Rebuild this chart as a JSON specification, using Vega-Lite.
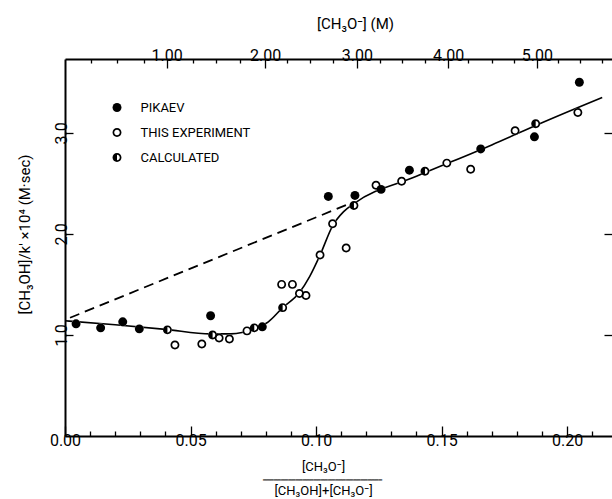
{
  "$schema": "https://vega.github.io/schema/vega-lite/v6.json",
  "width": 547,
  "height": 377,
  "autosize": "none",
  "padding": {"left": 65, "top": 59, "right": 0, "bottom": 63},
  "background": "white",
  "title": {
    "text": "━━━━━━━━━━━━━━━━━━━━━━━━━━━━━━━━━",
    "orient": "bottom",
    "frame": "group",
    "anchor": "middle",
    "font": "DejaVu Sans",
    "fontSize": 6,
    "fontWeight": "normal",
    "color": "black",
    "offset": 0,
    "dx": -16,
    "dy": -17,
    "baseline": "middle"
  },
  "config": {
    "view": {"stroke": null},
    "font": "Roboto",
    "axis": {
      "grid": false,
      "domainColor": "black",
      "domainWidth": 2,
      "tickColor": "black",
      "tickWidth": 1.3,
      "labelFont": "Roboto",
      "labelFontSize": 16,
      "labelColor": "black",
      "labelFlush": false,
      "labelOverlap": false,
      "titleFont": "Roboto",
      "titleFontSize": 14,
      "titleFontWeight": "normal",
      "titleColor": "black"
    }
  },
  "datasets": {
    "points": [
      {"series": "PIKAEV", "frac": 0.0044, "rate": 1.11},
      {"series": "PIKAEV", "frac": 0.0142, "rate": 1.07},
      {"series": "PIKAEV", "frac": 0.0230, "rate": 1.13},
      {"series": "PIKAEV", "frac": 0.0296, "rate": 1.06},
      {"series": "PIKAEV", "frac": 0.0580, "rate": 1.19},
      {"series": "PIKAEV", "frac": 0.0786, "rate": 1.08},
      {"series": "PIKAEV", "frac": 0.1049, "rate": 2.37},
      {"series": "PIKAEV", "frac": 0.1155, "rate": 2.38},
      {"series": "PIKAEV", "frac": 0.1259, "rate": 2.44},
      {"series": "PIKAEV", "frac": 0.1372, "rate": 2.63},
      {"series": "PIKAEV", "frac": 0.1656, "rate": 2.84},
      {"series": "PIKAEV", "frac": 0.1870, "rate": 2.96},
      {"series": "PIKAEV", "frac": 0.2049, "rate": 3.50},
      {"series": "THIS EXPERIMENT", "frac": 0.0438, "rate": 0.90},
      {"series": "THIS EXPERIMENT", "frac": 0.0545, "rate": 0.91},
      {"series": "THIS EXPERIMENT", "frac": 0.0614, "rate": 0.97},
      {"series": "THIS EXPERIMENT", "frac": 0.0655, "rate": 0.96},
      {"series": "THIS EXPERIMENT", "frac": 0.0725, "rate": 1.04},
      {"series": "THIS EXPERIMENT", "frac": 0.0863, "rate": 1.50},
      {"series": "THIS EXPERIMENT", "frac": 0.0906, "rate": 1.50},
      {"series": "THIS EXPERIMENT", "frac": 0.0934, "rate": 1.41},
      {"series": "THIS EXPERIMENT", "frac": 0.0960, "rate": 1.39},
      {"series": "THIS EXPERIMENT", "frac": 0.1016, "rate": 1.79},
      {"series": "THIS EXPERIMENT", "frac": 0.1066, "rate": 2.10},
      {"series": "THIS EXPERIMENT", "frac": 0.1120, "rate": 1.86},
      {"series": "THIS EXPERIMENT", "frac": 0.1239, "rate": 2.48},
      {"series": "THIS EXPERIMENT", "frac": 0.1341, "rate": 2.52},
      {"series": "THIS EXPERIMENT", "frac": 0.1521, "rate": 2.70},
      {"series": "THIS EXPERIMENT", "frac": 0.1616, "rate": 2.64},
      {"series": "THIS EXPERIMENT", "frac": 0.1793, "rate": 3.02},
      {"series": "THIS EXPERIMENT", "frac": 0.2043, "rate": 3.20},
      {"series": "CALCULATED", "frac": 0.0408, "rate": 1.05},
      {"series": "CALCULATED", "frac": 0.0588, "rate": 1.00},
      {"series": "CALCULATED", "frac": 0.0754, "rate": 1.07},
      {"series": "CALCULATED", "frac": 0.0867, "rate": 1.27},
      {"series": "CALCULATED", "frac": 0.1151, "rate": 2.28},
      {"series": "CALCULATED", "frac": 0.1434, "rate": 2.62},
      {"series": "CALCULATED", "frac": 0.1875, "rate": 3.09}
    ],
    "curve": [
      {"frac": 0.0, "rate": 1.14},
      {"frac": 0.02, "rate": 1.10},
      {"frac": 0.04, "rate": 1.055},
      {"frac": 0.058, "rate": 1.01},
      {"frac": 0.066, "rate": 1.01},
      {"frac": 0.0754, "rate": 1.06},
      {"frac": 0.081, "rate": 1.13},
      {"frac": 0.0867, "rate": 1.27},
      {"frac": 0.0934, "rate": 1.42},
      {"frac": 0.0975, "rate": 1.58},
      {"frac": 0.1016, "rate": 1.79},
      {"frac": 0.1066, "rate": 2.08},
      {"frac": 0.111, "rate": 2.22},
      {"frac": 0.1151, "rate": 2.30},
      {"frac": 0.14, "rate": 2.57},
      {"frac": 0.17, "rate": 2.88},
      {"frac": 0.19, "rate": 3.10},
      {"frac": 0.214, "rate": 3.35}
    ],
    "dashed": [
      {"frac": 0.002, "rate": 1.17},
      {"frac": 0.1135, "rate": 2.30}
    ]
  },
  "layer": [
    {
      "data": {"name": "dashed"},
      "mark": {"type": "line", "color": "black", "strokeWidth": 1.8, "strokeDash": [10, 6]},
      "encoding": {
        "x": {
          "field": "frac", "type": "quantitative",
          "scale": {"domain": [0, 0.2179], "nice": false, "zero": false},
          "axis": {
            "orient": "bottom",
            "values": [0, 0.01, 0.02, 0.03, 0.04, 0.05, 0.06, 0.07, 0.08, 0.09, 0.1, 0.11, 0.12, 0.13, 0.14, 0.15, 0.16, 0.17, 0.18, 0.19, 0.2, 0.21],
            "labelExpr": "round(datum.value*100)%5==0 ? format(datum.value,'.2f') : ''",
            "tickSize": {"condition": {"test": "round(datum.value*100)%5==0", "value": -10}, "value": -5},
            "labelPadding": 6,
            "title": ["[CH₃O⁻]", "[CH₃OH]+[CH₃O⁻]"],
            "titleFontSize": 13,
            "titleLineHeight": 24,
            "titleX": 258,
            "titleY": 24,
            "titleBaseline": "top",
            "titleAlign": "center"
          }
        },
        "y": {
          "field": "rate", "type": "quantitative",
          "scale": {"domain": [0, 3.73], "nice": false, "zero": false},
          "axis": {
            "orient": "left",
            "values": [1, 2, 3],
            "format": ".1f",
            "labelAngle": 270,
            "tickSize": -8,
            "labelPadding": 4,
            "title": "[CH₃OH]/k′  ×10⁴ (M·sec)",
            "titleFontSize": 15,
            "titleX": -41,
            "titleY": 175,
            "titleBaseline": "middle",
            "titleAlign": "center"
          }
        }
      }
    },
    {
      "data": {"name": "curve"},
      "mark": {"type": "line", "color": "black", "strokeWidth": 1.6, "interpolate": "monotone"},
      "encoding": {
        "x": {
          "field": "frac", "type": "quantitative",
          "axis": {
            "orient": "top",
            "values": [0.0102, 0.0207, 0.0313, 0.0405, 0.0511, 0.06, 0.0697, 0.0797, 0.0883, 0.0976, 0.1069, 0.1163, 0.1255, 0.1344, 0.1436, 0.1526, 0.1607, 0.17, 0.179, 0.188, 0.1965, 0.2052, 0.2138],
            "labelExpr": "datum.value==0.0405?'1.00':datum.value==0.0797?'2.00':datum.value==0.1163?'3.00':datum.value==0.1526?'4.00':datum.value==0.188?'5.00':''",
            "tickSize": {"condition": {"test": "indexof([0.0405,0.0797,0.1163,0.1526,0.188], datum.value) >= 0", "value": -9}, "value": -4},
            "labelPadding": 5,
            "title": "[CH₃O⁻] (M)",
            "titleFontSize": 15,
            "titleX": 290,
            "titleY": -36,
            "titleBaseline": "middle",
            "titleAlign": "center"
          }
        },
        "y": {
          "field": "rate", "type": "quantitative",
          "axis": {
            "orient": "right",
            "values": [1, 2, 3],
            "labels": false,
            "domain": false,
            "tickSize": -8,
            "title": null
          }
        }
      }
    },
    {
      "data": {"name": "points"},
      "mark": {"type": "point", "shape": "circle", "filled": true, "fill": "white", "opacity": 1, "strokeWidth": 0, "size": 80},
      "encoding": {
        "x": {"field": "frac", "type": "quantitative", "axis": null},
        "y": {"field": "rate", "type": "quantitative", "axis": null}
      }
    },
    {
      "data": {"name": "points"},
      "mark": {"type": "point", "filled": true, "fill": "black", "opacity": 1, "strokeWidth": 0, "size": 80},
      "encoding": {
        "x": {"field": "frac", "type": "quantitative", "axis": null},
        "y": {"field": "rate", "type": "quantitative", "axis": null},
        "shape": {
          "field": "series", "type": "nominal",
          "scale": {
            "domain": ["PIKAEV", "THIS EXPERIMENT", "CALCULATED"],
            "range": [
              "circle",
              "M-1,0A1,1,0,1,1,1,0A1,1,0,1,1,-1,0ZM-0.62,0A0.62,0.62,0,1,0,0.62,0A0.62,0.62,0,1,0,-0.62,0Z",
              "M-1,0A1,1,0,1,1,1,0A1,1,0,1,1,-1,0ZM0,-0.62L0,0.62A0.62,0.62,0,0,0,0,-0.62Z"
            ]
          },
          "legend": {
            "orient": "none",
            "legendX": 45.5,
            "legendY": 42,
            "title": null,
            "padding": 0,
            "rowPadding": 11,
            "labelOffset": 17,
            "labelFont": "Roboto",
            "labelFontSize": 13,
            "labelColor": "black",
            "symbolSize": 80,
            "symbolFillColor": "black",
            "symbolStrokeWidth": 0,
            "symbolOpacity": 1
          }
        }
      }
    }
  ],
  "resolve": {"axis": {"x": "independent", "y": "independent"}}
}
